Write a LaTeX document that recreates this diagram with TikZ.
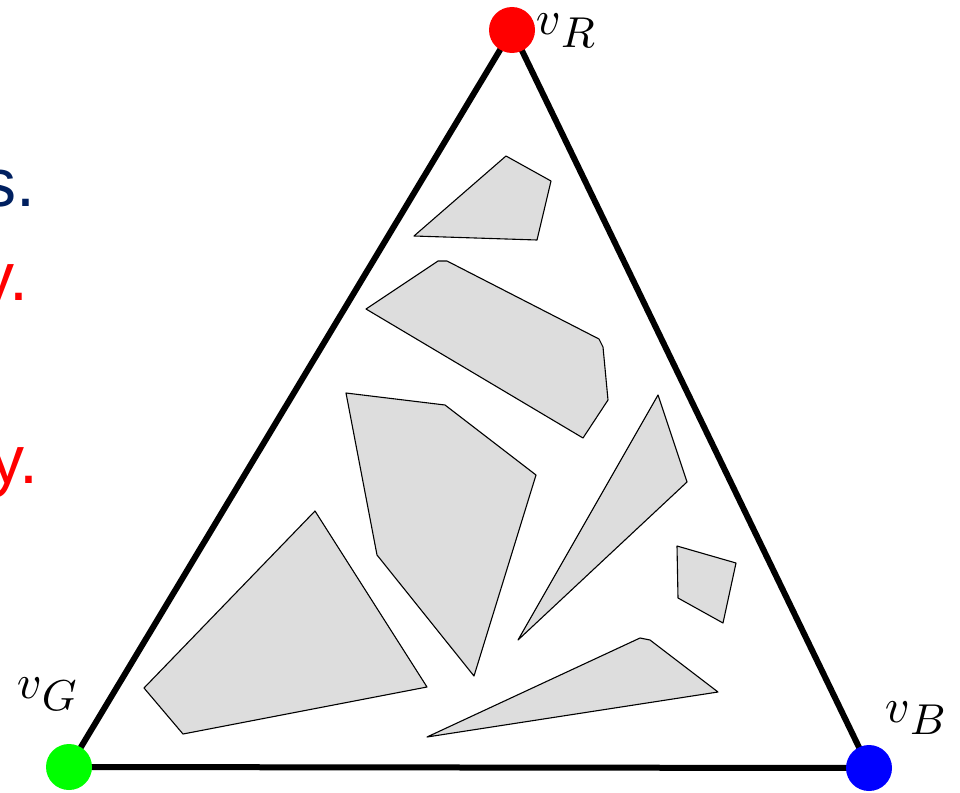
\documentclass[tikz,border=0pt]{standalone}
\usepackage{fontspec}
\newfontfamily\slidefont{Liberation Sans}
\definecolor{navy}{RGB}{0,32,96}
\definecolor{regionfill}{RGB}{221,221,221}
\newcommand{\vsub}[1]{$v$\raisebox{-2.5pt}{\fontsize{9}{10}\selectfont$#1$}}
\begin{document}
\begin{tikzpicture}[x=1pt,y=-1pt,
  edge/.style={line width=6pt,line join=round},
  vdot/.style={circle,inner sep=0pt,minimum size=46pt},
  region/.style={draw=black,line width=1.1pt,fill=regionfill,line join=round},
  vlabel/.style={inner sep=0pt,scale=4.8},
  slide/.style={inner sep=0pt,font=\slidefont\fontsize{68}{80}\selectfont}]
\useasboundingbox (0,0) rectangle (960,792);
\begin{scope}
\clip (0,0) rectangle (960,792);
\node[slide,text=navy,anchor=base east] (t1) at (36,206) {s.};
\node[slide,text=red,anchor=base east] (t2) at (29,300) {y.};
\node[slide,text=red,anchor=base east] (t3) at (39,483) {y.};
\end{scope}
% regions
\draw[region] (506,156) -- (551,181) -- (537,240) -- (414,236) -- cycle;
\draw[region] (366,309) -- (438,261) -- (447,261) -- (599,339) -- (603,347) -- (608,400) -- (583,438) -- cycle;
\draw[region] (346,393) -- (445,405) -- (536,475) -- (474,676) -- (377,555) -- cycle;
\draw[region] (315,511) -- (427,687) -- (183,734) -- (144,688) -- cycle;
\draw[region] (658,395) -- (687,482) -- (518,640) -- cycle;
\draw[region] (677,546) -- (736,563) -- (723,623) -- (678,598) -- cycle;
\draw[region] (427,737) -- (640,638) -- (650,640) -- (718,692) -- cycle;
% triangle
\coordinate (R) at (512,30);
\coordinate (G) at (69,767);
\coordinate (B) at (869,768);
\draw[edge] (R) -- (G) -- (B) -- cycle;
\node[vdot,fill=red] (vR) at (R) {};
\node[vdot,fill=green] (vG) at (G) {};
\node[vdot,fill=blue] (vB) at (B) {};
\node[vlabel,anchor=base west] (lR) at (535,35) {\vsub{R}};
\node[vlabel,anchor=base west] (lG) at (16,698) {\vsub{G}};
\node[vlabel,anchor=base west] (lB) at (884,722) {\vsub{B}};
\end{tikzpicture}
\end{document}
